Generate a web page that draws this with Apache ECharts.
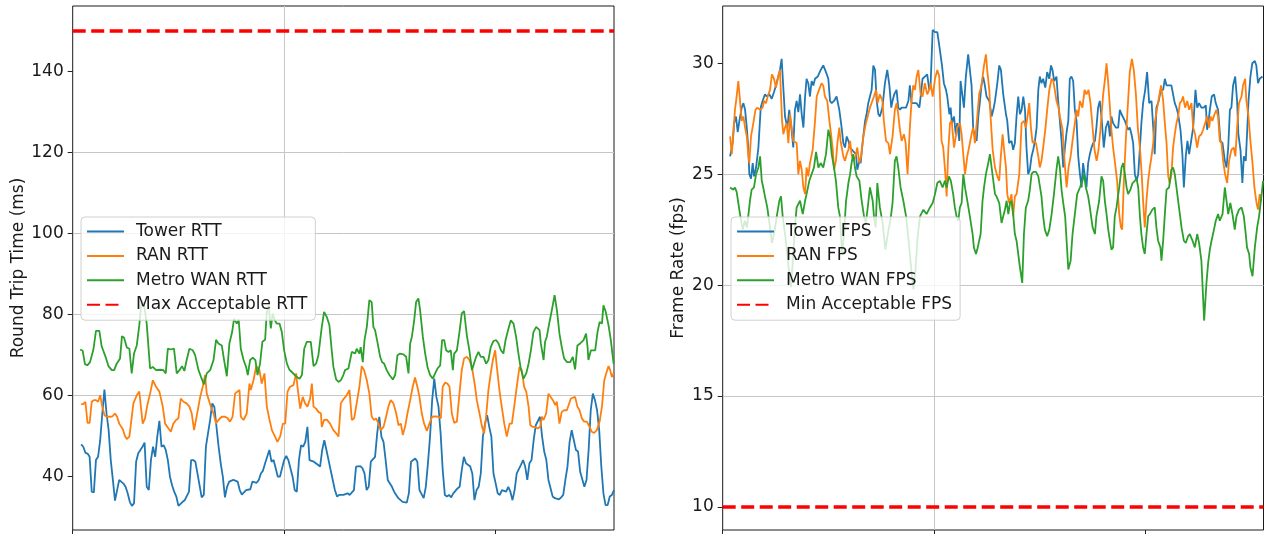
<!DOCTYPE html>
<html><head><meta charset="utf-8">
<script src="https://cdn.jsdelivr.net/npm/echarts@6/dist/echarts.min.js"></script>
<style>html,body{margin:0;padding:0;background:#fff}#c{width:1265px;height:534px}</style>
</head><body><div id="c"></div>
<script>
// ---- data (x = time index, y = value) ----
const timeTicks = [0, 100, 200];
const rttTicks = [40, 60, 80, 100, 120, 140];
const fpsTicks = [10, 15, 20, 25, 30];
const MAX_RTT = 150;
const MIN_FPS = 10;

const towerRtt = [[4,48.0],[5,47.4],[6,45.9],[7,45.7],[8,44.9],[9,36.3],[10,36.1],[11,44.1],[12,44.9],[13,49.0],[14,55.6],[15,61.5],[16,55.6],[17,51.5],[18,44.1],[19,39.2],[20,34.1],[21,36.7],[22,39.2],[24,38.3],[25,37.5],[26,35.9],[27,33.8],[28,32.8],[29,33.4],[30,43.7],[31,45.8],[33,47.4],[34,48.4],[35,37.5],[36,36.7],[37,44.1],[38,47.4],[39,44.9],[40,49.9],[41,53.8],[42,47.4],[43,47.8],[44,46.6],[45,44.1],[46,40.0],[47,37.9],[48,36.3],[49,35.1],[50,32.8],[52,33.8],[53,34.2],[55,36.3],[56,44.1],[57,44.1],[58,43.7],[59,40.8],[61,34.9],[62,35.5],[63,47.4],[65,54.0],[66,58.1],[67,57.2],[68,52.3],[69,47.4],[70,43.3],[71,40.0],[72,34.9],[73,37.5],[74,38.8],[76,39.2],[78,38.8],[79,36.7],[80,35.6],[82,36.7],[84,36.9],[85,38.8],[87,38.5],[88,39.2],[89,40.8],[90,41.5],[91,43.3],[93,46.6],[94,43.7],[95,44.1],[96,42.1],[97,40.0],[98,40.0],[100,44.1],[101,45.1],[102,44.1],[104,40.0],[105,36.7],[106,36.3],[107,44.1],[108,47.8],[109,47.4],[110,48.6],[111,52.3],[112,44.1],[114,43.7],[115,43.3],[117,42.5],[118,46.6],[119,49.0],[120,46.6],[121,44.1],[122,41.6],[124,36.7],[125,35.1],[126,35.5],[128,35.5],[130,35.9],[131,35.5],[133,36.7],[134,42.5],[136,42.6],[137,42.1],[138,40.8],[139,36.7],[140,37.5],[141,43.7],[143,44.9],[144,50.7],[145,54.8],[146,49.9],[147,48.6],[148,44.1],[149,39.2],[151,37.5],[152,36.3],[154,34.7],[156,33.8],[158,33.6],[159,35.9],[160,43.7],[162,44.5],[163,43.7],[164,36.7],[166,34.7],[167,37.5],[168,43.3],[169,49.9],[170,58.9],[171,64.2],[172,59.7],[173,57.3],[174,50.7],[175,41.6],[176,35.5],[177,35.1],[178,35.5],[179,34.9],[180,35.9],[182,37.1],[183,37.5],[184,41.6],[185,44.9],[186,43.3],[188,42.5],[189,40.8],[190,34.2],[191,36.7],[192,37.5],[193,40.8],[194,49.9],[195,53.1],[196,55.2],[197,52.3],[198,49.9],[199,40.8],[200,38.4],[201,35.9],[202,35.5],[203,36.7],[205,36.3],[206,37.5],[207,36.3],[208,34.2],[209,36.7],[210,40.8],[212,42.9],[213,44.1],[214,42.5],[215,39.2],[216,43.3],[217,44.1],[218,49.0],[219,52.7],[221,54.8],[222,49.9],[223,46.2],[224,44.1],[225,39.2],[227,35.1],[228,34.7],[230,34.4],[231,34.9],[232,35.5],[233,39.2],[234,42.5],[235,48.6],[236,51.5],[237,49.0],[238,46.6],[239,46.2],[240,41.2],[242,37.5],[243,39.2],[244,46.6],[245,56.4],[246,60.5],[247,58.9],[248,56.4],[249,51.5],[250,42.5],[251,35.9],[252,33.0],[253,33.0],[254,35.1],[255,35.5],[256,36.7]];

const ranRtt = [[4,57.9],[5,57.9],[6,58.5],[7,53.3],[8,53.3],[9,58.5],[10,58.9],[11,58.9],[12,58.5],[13,60.1],[14,57.3],[15,55.2],[16,54.8],[17.7,54.8],[18.8,54.9],[20,55.6],[21,54.8],[22,53.1],[23.7,51.7],[24.8,49.9],[25.6,49.3],[26.8,49.9],[27.6,49.9],[28.7,58.1],[30.3,60.1],[31.5,61.0],[32.2,61.4],[33.1,53.1],[34.2,54.4],[35.3,57.7],[36.6,60.5],[37.9,63.8],[39.4,62.2],[41.0,61.0],[42.6,57.3],[43.7,53.1],[45.3,51.9],[46.4,51.1],[47.6,53.1],[48.9,54.0],[50.0,54.4],[51.1,59.3],[52.4,58.5],[53.9,58.1],[55.2,57.3],[56.3,55.6],[57.4,51.5],[58.2,51.9],[59.3,56.8],[60.3,59.7],[61.5,62.2],[62.6,65.1],[63.4,60.5],[64.4,58.9],[65.3,57.3],[66.6,55.6],[67.8,53.1],[68.9,54.0],[70.5,54.8],[72.1,54.8],[73.3,54.4],[74.4,53.6],[75.6,54.8],[76.8,60.5],[77.9,61.0],[78.9,61.4],[79.5,54.8],[80.8,54.0],[82.3,55.6],[83.6,63.0],[84.2,61.4],[85.5,63.8],[86.8,67.3],[88.3,66.3],[89.4,63.0],[90.7,65.5],[91.8,57.3],[93.1,54.0],[94.2,51.5],[95.7,49.9],[96.8,48.6],[98.1,49.9],[99.4,53.1],[100.5,53.1],[101.6,61.0],[102.8,62.2],[104.4,62.6],[105.7,65.5],[106.3,62.2],[107.6,56.8],[108.8,59.7],[109.9,58.1],[111.0,57.3],[112.3,59.3],[113.1,63.0],[113.9,57.3],[115.1,56.8],[116.2,56.0],[117.4,55.6],[117.8,52.3],[118.9,54.0],[120.2,54.1],[121.7,53.1],[123.3,51.5],[124.6,50.7],[125.7,49.9],[126.8,58.1],[128.0,59.1],[129.6,60.1],[130.9,61.4],[132.0,54.0],[133.1,54.4],[134.3,58.1],[135.6,62.2],[136.7,67.3],[137.8,66.3],[139.1,63.8],[140.3,60.5],[141.4,54.8],[142.5,54.0],[143.5,54.4],[144.6,53.1],[145.7,51.5],[147.0,52.3],[148.2,54.8],[149.3,57.3],[150.4,58.9],[151.7,58.1],[153.0,55.6],[154.1,52.7],[155.2,53.1],[156.1,50.3],[157.2,52.3],[158.3,55.6],[159.6,58.9],[160.8,62.2],[161.9,64.5],[163.0,62.2],[164.0,59.7],[165.1,55.6],[166.2,53.1],[167.5,51.3],[168.7,53.1],[170.0,54.8],[171.4,54.9],[173.0,54.8],[174.1,54.4],[175.0,62.2],[176.1,63.2],[177.2,63.0],[178.2,62.2],[179.3,55.6],[180.4,53.3],[181.7,53.6],[182.9,60.5],[184.0,66.3],[185.1,69.2],[186.4,69.6],[187.6,68.8],[188.8,67.1],[190.3,62.2],[191.1,58.9],[192.4,55.6],[193.6,52.3],[194.6,50.7],[195.5,54.8],[196.6,61.4],[197.7,65.5],[198.7,68.8],[199.8,71.2],[200.6,67.1],[201.8,61.4],[202.9,57.3],[204.1,53.1],[205.3,49.9],[206.6,53.1],[207.7,53.1],[208.8,57.3],[210.0,62.2],[211.3,67.1],[212.4,66.3],[213.5,62.2],[214.5,61.0],[215.6,57.3],[216.4,52.7],[217.6,52.3],[218.7,52.3],[219.8,51.9],[221.1,52.3],[221.9,54.8],[222.7,54.0],[223.9,55.6],[225.0,60.5],[225.8,60.1],[227.1,58.9],[228.2,57.7],[229.0,58.5],[230.2,53.1],[231.3,56.0],[232.4,56.4],[233.7,56.4],[234.5,56.4],[235.6,59.3],[236.5,58.9],[237.6,59.7],[238.7,57.3],[239.7,56.4],[240.8,54.4],[241.9,53.6],[243.2,53.6],[244.4,52.3],[245.5,51.1],[246.6,50.8],[247.9,51.5],[249.2,53.6],[250.3,57.3],[251.4,63.8],[252.3,65.5],[253.4,67.3],[254.2,66.3],[255.0,64.6],[255.8,65.5]];

const metroRtt = [[3.5,71.4],[4.7,71.1],[5.8,67.8],[6.9,67.5],[8.2,68.3],[9.8,71.4],[11.0,76.0],[12.6,76.0],[13.7,72.2],[15.8,69.2],[16.9,67.3],[18.5,66.3],[19.6,66.3],[20.8,67.9],[22.4,69.2],[23.3,74.7],[24.3,74.3],[25.6,71.9],[26.8,71.6],[27.9,65.5],[29.0,70.4],[30.3,72.4],[31.5,77.4],[32.6,83.6],[33.8,82.3],[35.0,77.8],[36.6,66.7],[37.9,67.1],[39.4,66.3],[41.3,66.4],[42.9,66.3],[44.0,65.5],[45.0,71.6],[46.4,71.4],[47.9,71.6],[49.2,65.5],[50.5,66.3],[51.7,67.3],[52.8,66.1],[53.9,68.8],[55.2,71.6],[56.8,71.2],[57.9,70.0],[59.5,66.3],[60.7,64.6],[62.1,62.8],[63.4,65.5],[65.0,66.3],[66.6,68.8],[67.8,73.8],[68.9,72.9],[70.5,72.4],[71.6,68.8],[72.9,64.8],[74.1,72.9],[75.4,75.7],[76.3,79.0],[77.6,77.8],[78.5,78.8],[79.5,71.6],[80.8,68.8],[82.0,67.1],[82.8,65.1],[83.9,68.8],[85.2,69.4],[86.4,68.8],[87.4,65.1],[88.6,67.9],[89.7,73.3],[91.0,73.8],[91.8,80.7],[92.7,82.3],[93.7,76.6],[94.6,80.3],[95.6,78.6],[96.5,77.8],[97.8,77.8],[98.9,75.7],[100.0,71.2],[101.3,67.9],[102.5,66.4],[104.1,65.6],[106.0,64.6],[107.3,64.2],[108.4,65.1],[109.5,71.6],[110.7,73.3],[112.6,73.3],[113.9,67.3],[115.1,67.9],[116.2,70.0],[117.8,77.0],[118.9,80.7],[120.2,79.4],[121.4,77.4],[122.5,71.2],[123.3,67.1],[124.6,64.0],[125.7,63.4],[126.8,63.8],[128.0,65.1],[128.8,66.3],[130.4,66.7],[131.2,67.1],[132.0,70.8],[132.8,71.2],[133.6,70.4],[134.3,71.6],[135.6,70.4],[136.2,72.0],[137.2,68.3],[138.0,73.7],[139.1,77.0],[140.3,83.6],[141.4,83.1],[142.2,77.0],[143.0,76.2],[144.1,73.3],[145.4,69.6],[146.3,68.3],[147.3,67.9],[148.5,66.3],[149.8,65.1],[151.4,64.0],[152.5,65.1],[153.6,70.0],[154.8,70.4],[156.4,70.2],[157.7,69.6],[158.8,65.5],[159.6,72.9],[160.4,74.5],[161.5,78.6],[162.4,83.1],[163.5,84.0],[164.3,81.1],[165.6,74.5],[166.7,70.4],[167.8,67.1],[169.0,65.1],[170.3,64.2],[171.4,65.5],[172.5,66.7],[173.8,67.5],[174.7,73.7],[175.7,73.7],[176.6,71.2],[177.7,70.8],[178.8,71.2],[179.8,66.3],[180.4,70.4],[181.7,71.2],[182.9,75.7],[184.0,80.3],[185.1,80.9],[186.4,74.9],[187.6,71.2],[188.8,66.3],[189.5,65.9],[190.8,69.6],[191.9,70.8],[193.0,69.6],[194.3,69.6],[195.5,67.9],[196.6,68.8],[197.7,72.0],[199.0,73.5],[200.3,73.7],[201.4,72.9],[202.5,71.2],[203.7,70.4],[204.7,73.7],[206.1,76.6],[207.2,78.6],[208.5,77.8],[209.7,74.5],[210.8,70.4],[211.9,66.7],[213.2,64.2],[214.5,65.5],[215.6,67.9],[216.7,71.2],[217.9,75.7],[219.2,77.0],[220.8,76.2],[221.4,72.9],[222.7,68.8],[223.4,73.3],[224.2,74.5],[225.5,78.2],[226.6,81.1],[227.9,84.8],[229.0,81.1],[230.2,75.3],[231.3,72.0],[232.4,69.2],[233.7,68.3],[235.3,68.3],[236.5,69.6],[237.6,66.5],[238.7,72.4],[240.0,72.9],[241.6,73.7],[242.8,75.3],[243.5,72.0],[243.9,68.8],[245.1,71.2],[246.0,70.8],[247.1,71.2],[248.2,75.7],[249.2,78.2],[250.3,77.8],[251.0,82.3],[252.1,80.7],[253.4,77.4],[254.5,73.7],[255.8,67.9]];

const towerFps = [[3.5,25.8],[4.7,26.4],[5.4,27.3],[6.3,27.6],[7.1,26.9],[7.9,27.4],[9.0,28.0],[9.8,28.2],[10.6,27.9],[11.4,27.1],[12.1,26.2],[12.6,25.0],[13.4,24.8],[14.2,25.5],[14.8,24.9],[15.8,25.3],[16.9,26.2],[18.0,28.0],[18.9,28.3],[20.0,28.6],[20.8,28.5],[22.1,28.6],[23.2,28.4],[24.3,28.7],[25.2,29.0],[26.3,29.4],[27.1,29.7],[27.9,30.2],[28.7,30.2],[29.5,27.6],[30.6,27.1],[31.5,27.9],[32.6,27.0],[33.4,26.2],[34.2,27.9],[35.0,28.3],[35.8,27.8],[36.6,28.6],[37.4,27.7],[38.2,27.1],[39.0,28.5],[39.7,29.3],[40.5,29.1],[41.3,28.5],[42.1,29.2],[42.9,29.0],[43.7,29.3],[45.0,29.4],[46.4,29.7],[47.6,29.9],[48.9,29.6],[50.0,29.3],[50.8,28.3],[51.6,28.2],[52.7,28.3],[53.9,28.5],[55.2,27.9],[56.3,27.1],[57.1,26.4],[57.9,26.2],[58.7,26.7],[59.5,26.5],[60.3,26.2],[61.2,26.2],[62.1,26.0],[63.1,25.9],[63.7,25.2],[64.7,25.6],[65.3,25.5],[66.2,26.4],[67.4,27.4],[68.1,27.7],[68.9,28.2],[69.7,28.5],[70.5,28.8],[71.3,29.9],[72.1,29.7],[72.9,28.3],[73.7,27.7],[74.4,27.6],[75.6,28.0],[76.8,29.1],[77.9,29.7],[78.9,29.0],[79.8,28.0],[80.4,28.3],[81.2,28.6],[82.3,28.8],[83.1,28.0],[83.9,27.9],[84.7,28.0],[85.8,28.0],[86.8,28.0],[87.9,28.3],[88.6,29.0],[89.4,28.2],[90.5,28.2],[91.8,28.2],[93.1,28.0],[93.7,28.5],[94.6,29.3],[95.7,29.4],[96.8,29.5],[97.8,28.8],[98.4,29.0],[99.4,31.5],[100.5,31.4],[101.6,31.4],[102.8,30.6],[103.8,29.9],[104.7,29.1],[105.7,28.8],[106.3,28.5],[107.3,27.7],[107.9,28.0],[108.5,27.3],[109.5,27.6],[110.3,26.8],[111.0,27.3],[112.0,26.5],[112.6,29.2],[114.2,28.0],[115.1,29.4],[116.2,30.4],[117.8,29.0],[118.6,27.0],[119.4,27.0],[120.2,26.5],[121.0,27.6],[121.8,28.3],[122.5,29.0],[123.3,29.4],[124.1,29.0],[124.9,28.5],[126.2,28.3],[127.3,27.6],[128.1,27.9],[128.9,28.3],[130.0,29.1],[130.9,29.9],[131.7,29.7],[132.8,28.6],[134.1,27.7],[134.7,27.4],[135.6,26.4],[136.7,26.5],[137.5,26.1],[138.3,26.4],[139.1,27.6],[139.9,28.5],[140.7,27.7],[141.5,27.9],[142.3,28.5],[143.1,27.9],[143.8,26.2],[144.6,25.0],[145.4,25.2],[146.2,25.8],[147.0,26.1],[147.8,26.5],[148.6,27.1],[149.4,28.8],[150.1,29.4],[150.9,29.1],[151.7,29.3],[152.7,28.9],[153.6,29.6],[154.6,29.3],[155.4,29.9],[156.1,29.7],[156.9,29.2],[158.0,29.4],[158.8,28.3],[159.6,27.4],[160.4,26.5],[161.2,25.3],[162.0,26.2],[162.8,26.9],[163.6,27.4],[164.3,29.3],[165.1,29.4],[165.9,29.2],[166.7,27.9],[167.5,27.4],[168.3,25.8],[169.1,25.0],[169.9,24.4],[170.6,25.5],[171.4,25.5],[172.2,24.4],[173.0,25.5],[173.8,25.9],[174.6,26.2],[175.4,26.4],[176.2,26.5],[176.9,27.1],[177.7,28.0],[178.5,28.3],[179.3,27.6],[180.4,26.2],[181.4,27.1],[182.5,27.4],[183.3,26.7],[184.0,27.6],[184.8,27.3],[186.1,27.1],[187.2,27.1],[188.0,27.9],[188.8,27.7],[189.6,27.7],[190.4,27.4],[191.2,27.4],[191.9,27.0],[192.7,27.1],[193.5,26.8],[194.3,26.4],[195.1,25.0],[195.9,24.7],[196.7,25.0],[197.5,26.2],[198.2,27.3],[199.0,28.2],[200.0,28.8],[200.9,29.6],[201.9,28.2],[203.0,28.3],[203.8,27.1],[204.5,25.9],[205.3,28.0],[206.4,28.3],[207.4,28.8],[208.5,28.8],[209.3,29.3],[210.1,29.0],[211.3,29.0],[212.4,29.0],[213.2,28.6],[214.0,28.2],[214.8,28.0],[215.6,27.7],[216.7,27.0],[217.6,25.9],[218.3,24.4],[219.2,25.8],[220.0,26.5],[220.8,25.9],[221.6,26.4],[222.7,27.1],[223.8,28.8],[224.6,28.0],[225.5,28.2],[226.6,28.0],[227.7,28.0],[228.7,28.1],[229.3,27.0],[229.9,27.3],[230.6,27.9],[231.5,28.5],[232.6,28.6],[233.4,28.2],[234.5,27.9],[235.6,26.5],[236.6,26.4],[237.7,25.6],[238.5,25.3],[239.3,26.2],[240.1,27.9],[240.8,28.0],[241.6,29.0],[242.6,29.4],[243.5,28.3],[244.1,26.8],[245.1,26.1],[246.0,24.6],[246.7,25.8],[247.6,25.6],[248.2,26.8],[248.9,28.3],[249.8,29.4],[250.7,30.0],[251.9,30.1],[252.6,29.9],[253.4,29.1],[254.2,29.3],[255.5,29.4]];

const ranFps = [[3.5,26.7],[4.3,25.9],[5.0,26.8],[5.8,27.9],[6.6,28.5],[7.4,29.2],[8.2,28.3],[9.0,27.4],[9.8,27.6],[10.6,27.1],[11.4,26.7],[12.1,25.9],[12.6,25.5],[13.4,26.7],[14.5,27.3],[15.5,27.9],[16.4,28.0],[17.7,27.9],[18.9,28.0],[19.6,28.3],[20.5,28.2],[21.3,28.5],[22.4,28.8],[23.3,29.5],[24.3,29.3],[25.2,28.9],[26.3,29.4],[27.1,29.7],[28.1,27.4],[28.7,26.8],[29.5,27.1],[30.3,27.3],[31.1,26.4],[31.9,27.7],[32.8,27.7],[33.4,26.5],[34.2,26.5],[35.0,26.4],[35.8,25.0],[36.6,25.6],[37.4,25.2],[38.2,24.4],[39.0,24.1],[39.7,25.3],[40.5,24.9],[41.3,25.5],[42.6,26.1],[43.7,27.4],[44.5,28.5],[45.6,28.8],[46.8,29.1],[47.6,29.0],[48.4,28.5],[49.5,28.3],[50.5,27.4],[51.3,26.8],[52.1,26.1],[52.7,25.2],[53.6,25.6],[54.3,26.4],[55.2,27.1],[55.8,26.5],[57.1,25.8],[57.9,25.6],[58.7,25.9],[59.5,26.1],[60.3,26.5],[61.0,25.9],[61.8,25.6],[62.9,25.8],[63.7,26.2],[64.7,25.5],[65.5,25.8],[66.6,26.7],[67.8,27.3],[68.9,27.7],[69.7,28.0],[70.5,28.0],[71.6,28.5],[72.6,28.8],[73.3,28.2],[74.4,28.6],[75.6,28.3],[76.3,27.4],[77.3,26.5],[78.4,26.4],[79.2,25.9],[80.4,26.7],[81.5,27.9],[82.3,28.2],[83.1,27.7],[83.9,27.0],[84.7,26.5],[85.8,26.8],[86.6,26.4],[87.5,25.0],[88.6,27.1],[89.4,28.3],[90.2,29.0],[91.0,28.8],[91.8,29.4],[92.6,29.7],[93.7,28.6],[94.6,28.5],[95.7,29.1],[96.8,28.6],[97.8,28.8],[98.4,29.1],[99.4,28.5],[100.5,29.3],[101.6,29.7],[102.5,29.4],[103.6,26.5],[104.4,26.2],[105.4,25.0],[106.0,24.0],[106.8,26.1],[107.6,27.3],[108.4,27.4],[109.5,26.2],[110.4,26.2],[111.0,27.1],[112.3,27.3],[113.1,26.8],[113.6,26.2],[114.7,25.0],[115.8,25.8],[116.7,25.8],[117.8,26.8],[118.6,27.1],[119.4,26.4],[120.5,27.6],[121.4,28.6],[122.5,29.0],[123.7,29.9],[124.6,30.4],[125.2,29.7],[126.2,28.8],[126.8,27.6],[127.8,26.1],[128.9,25.3],[130.0,24.9],[130.9,24.7],[131.5,25.6],[132.5,26.8],[133.1,26.2],[134.1,25.3],[134.7,24.1],[135.6,23.7],[136.7,24.1],[137.5,23.1],[138.3,24.0],[139.1,24.1],[140.4,25.0],[141.5,27.3],[142.6,27.4],[143.5,27.1],[144.3,27.6],[145.1,28.2],[145.9,27.1],[146.7,26.4],[147.3,26.5],[148.3,26.4],[149.4,25.8],[150.1,25.3],[150.9,25.6],[151.7,26.2],[152.7,27.0],[153.6,27.9],[154.6,28.8],[155.7,29.3],[156.5,29.2],[157.2,28.8],[158.0,28.3],[159.0,28.0],[159.6,27.6],[160.9,27.0],[161.8,25.6],[162.8,24.4],[163.7,25.3],[164.7,25.8],[165.6,26.5],[166.7,27.3],[167.5,27.9],[168.3,27.6],[169.1,28.3],[170.3,28.0],[171.3,28.8],[172.2,28.6],[173.2,28.8],[174.1,28.2],[175.1,27.1],[176.0,26.1],[177.0,25.6],[177.9,26.1],[178.8,27.0],[180.1,28.6],[181.1,29.4],[181.7,30.0],[182.5,29.1],[183.3,28.0],[184.0,27.0],[184.8,26.2],[185.6,25.6],[186.7,24.7],[187.7,23.2],[188.5,22.6],[189.1,22.5],[189.9,24.7],[190.8,26.5],[191.9,28.3],[192.7,29.6],[193.7,30.2],[194.6,29.7],[195.6,28.6],[196.5,27.1],[197.5,26.2],[198.4,24.9],[199.0,23.8],[199.8,22.6],[200.6,23.8],[201.4,24.7],[202.2,25.3],[203.0,25.8],[203.8,26.4],[204.5,27.3],[205.7,28.0],[206.6,28.5],[207.5,29.0],[208.5,28.3],[209.3,27.3],[210.1,26.4],[210.9,24.9],[211.6,24.6],[212.4,25.0],[213.2,26.2],[214.0,26.8],[214.8,27.3],[215.6,27.6],[216.4,28.2],[217.2,28.3],[217.9,28.5],[218.9,28.0],[219.9,28.3],[220.8,27.9],[221.9,28.2],[222.7,27.1],[223.6,26.8],[224.6,26.2],[225.5,26.7],[226.6,26.8],[227.4,27.0],[228.4,27.3],[229.3,27.6],[230.3,27.1],[230.9,27.6],[231.8,27.4],[232.8,27.7],[233.7,27.9],[234.5,27.6],[235.3,26.5],[236.1,26.4],[236.9,25.6],[237.8,25.0],[238.8,24.6],[239.7,25.6],[240.8,26.1],[241.9,26.2],[242.7,25.8],[243.5,27.1],[244.4,28.2],[245.6,28.5],[246.3,29.0],[247.3,29.3],[247.9,28.3],[248.9,27.6],[249.8,26.5],[250.8,25.5],[251.7,24.4],[252.7,23.7],[253.4,23.4],[254.2,24.1],[255.0,23.8]];

const metroFps = [[3.5,24.4],[5.0,24.3],[5.8,24.4],[6.6,24.2],[7.4,23.7],[8.2,23.2],[9.5,22.5],[10.5,22.9],[11.5,22.6],[12.9,23.8],[13.7,24.3],[14.8,24.4],[15.8,25.0],[16.9,25.3],[17.7,25.8],[18.5,24.7],[19.2,24.4],[20.0,24.0],[21.1,23.5],[22.1,22.8],[23.3,21.9],[24.5,22.4],[25.6,23.1],[26.8,23.8],[27.6,24.0],[28.4,23.1],[29.5,22.3],[30.5,21.5],[31.5,20.5],[32.3,19.9],[33.3,21.2],[34.2,22.6],[35.0,23.5],[36.6,23.8],[37.9,23.2],[39.0,23.8],[39.7,24.1],[41.0,24.7],[42.1,25.0],[43.2,25.3],[44.2,26.0],[45.3,25.3],[46.4,25.5],[47.6,25.3],[48.9,25.9],[50.0,27.0],[50.8,26.7],[51.6,25.9],[52.7,25.3],[53.6,24.7],[54.7,23.5],[55.5,23.1],[56.5,21.4],[57.4,22.3],[58.4,23.8],[59.5,24.6],[60.3,25.0],[61.0,25.5],[61.8,25.9],[62.6,25.3],[63.4,24.9],[64.7,24.7],[65.8,23.8],[66.9,23.1],[67.8,22.8],[68.9,23.7],[69.7,24.4],[71.0,23.8],[71.6,23.1],[72.4,22.6],[73.2,24.6],[74.4,23.5],[75.7,22.8],[77.0,21.6],[78.5,22.5],[79.5,23.0],[80.4,23.7],[81.5,25.6],[82.3,25.8],[83.1,25.3],[84.2,24.4],[85.5,23.8],[86.8,23.1],[88.0,22.0],[89.2,20.8],[90.3,19.8],[91.2,20.6],[92.3,22.2],[93.4,23.1],[95.0,23.4],[96.5,23.2],[98.1,23.5],[99.4,23.7],[100.5,24.1],[101.6,24.6],[102.8,24.7],[104.1,24.4],[105.2,24.7],[106.0,24.4],[107.1,24.9],[108.0,24.7],[109.1,24.1],[109.9,23.5],[110.7,23.1],[111.5,22.9],[112.3,23.5],[113.1,23.7],[113.9,25.0],[114.7,24.4],[115.8,23.8],[117.0,23.1],[118.3,22.3],[118.9,21.7],[119.9,21.4],[120.5,21.6],[121.4,21.6],[122.1,22.3],[123.0,23.8],[123.7,24.4],[124.6,25.0],[125.7,25.5],[126.5,25.9],[127.3,25.3],[128.1,24.7],[128.9,24.1],[129.6,24.0],[130.9,23.7],[132.0,22.8],[132.8,23.1],[133.6,23.4],[134.4,23.8],[135.2,23.2],[136.0,23.7],[136.7,23.8],[137.5,23.2],[138.3,22.3],[139.1,22.0],[139.9,21.4],[140.7,20.8],[141.8,20.1],[142.6,22.3],[143.5,23.5],[144.6,23.8],[145.4,24.3],[146.2,25.0],[147.0,25.1],[148.3,25.1],[149.4,24.9],[150.1,24.9],[150.9,24.0],[151.7,23.1],[152.5,22.5],[153.6,22.2],[154.6,22.5],[155.7,23.2],[156.8,24.1],[158.0,25.2],[158.8,25.8],[159.6,25.3],[160.4,24.3],[161.2,23.7],[162.1,23.1],[162.8,22.0],[163.6,20.7],[164.7,21.1],[165.6,22.3],[166.7,23.2],[167.8,24.1],[169.1,24.4],[170.3,24.7],[171.0,25.0],[171.9,24.4],[173.0,24.0],[173.8,23.5],[175.1,22.6],[176.2,22.3],[176.9,23.1],[178.2,23.8],[179.3,24.9],[180.1,24.7],[180.9,23.8],[181.7,23.2],[182.5,22.5],[183.3,22.0],[184.0,21.6],[184.8,21.7],[185.6,23.1],[186.4,23.5],[187.7,24.4],[188.8,25.3],[189.6,25.5],[190.4,25.0],[191.2,24.4],[191.9,24.1],[193.0,24.3],[194.0,24.6],[195.1,24.7],[195.9,24.8],[196.7,24.4],[197.5,23.1],[198.2,22.3],[199.0,21.7],[199.8,21.4],[200.6,22.3],[201.4,23.1],[202.2,23.2],[203.4,23.4],[204.5,23.5],[205.3,22.6],[206.1,22.0],[207.2,21.7],[207.7,21.1],[208.5,22.0],[209.3,23.2],[210.1,24.3],[211.3,24.4],[212.4,25.2],[213.2,25.3],[214.0,25.0],[214.8,24.4],[215.6,23.8],[216.4,23.2],[217.2,22.6],[218.3,22.0],[219.2,21.9],[220.3,22.2],[221.1,22.3],[222.4,22.0],[223.5,21.7],[224.6,22.3],[225.5,21.9],[226.6,21.1],[227.9,18.4],[229.0,20.1],[229.8,21.0],[230.6,21.6],[231.4,22.0],[232.1,22.3],[233.4,22.9],[234.5,23.2],[235.3,22.9],[236.6,23.2],[237.7,24.4],[238.5,23.8],[239.3,23.2],[240.3,23.7],[241.3,23.2],[242.4,22.5],[243.2,23.1],[244.4,23.4],[245.6,23.5],[246.7,23.1],[247.6,22.3],[248.2,21.7],[249.2,21.4],[249.8,20.8],[250.8,20.4],[251.9,21.7],[253.0,22.6],[253.9,23.1],[255.0,24.0],[255.8,24.7]];

// ---- styling ----
const FONT = 'DejaVu Sans';
const FS = 17;
const TXT = '#1a1a1a';
const C = { tower: '#1f77b4', ran: '#ff7f0e', metro: '#2ca02c', lim: '#ff0000' };
const X_MAX = 256;

function xAxis(gi) {
  return {
    gridIndex: gi, type: 'value', min: 0, max: X_MAX, interval: 100,
    axisLine: { show: false },
    axisTick: { show: true, inside: false, length: 5, customValues: timeTicks, lineStyle: { color: '#222', width: 1 } },
    axisLabel: { show: false },
    splitLine: { show: true, showMinLine: false, showMaxLine: false, lineStyle: { color: '#c6c6c6', width: 1 } }
  };
}
function yAxis(gi, min, max, split, ticks, name, gap) {
  return {
    gridIndex: gi, type: 'value', min: min, max: max, splitNumber: split,
    name: name, nameLocation: 'middle', nameGap: gap,
    nameTextStyle: { fontFamily: FONT, fontSize: FS, color: TXT },
    axisLine: { show: false },
    axisTick: { show: true, inside: false, length: 5, customValues: ticks, lineStyle: { color: '#222', width: 1 } },
    axisLabel: {
      customValues: ticks, margin: 9,
      fontFamily: FONT, fontSize: FS, color: TXT,
      formatter: v => (ticks.indexOf(v) >= 0 ? String(v) : '')
    },
    splitLine: { show: true, showMinLine: false, showMaxLine: false, lineStyle: { color: '#c6c6c6', width: 1 } }
  };
}
function dataLine(name, data, color, gi) {
  return {
    name: name, type: 'line', xAxisIndex: gi, yAxisIndex: gi, data: data,
    symbol: 'none', clip: true, lineStyle: { color: color, width: 1.8 }, itemStyle: { color: color },
    emphasis: { disabled: true }
  };
}
function limitLine(name, val, gi) {
  return {
    name: name, type: 'line', xAxisIndex: gi, yAxisIndex: gi,
    data: [[0, val], [X_MAX, val]], symbol: 'none', clip: true,
    lineStyle: { color: C.lim, width: 3.5, type: [13, 5.5] }, itemStyle: { color: C.lim },
    emphasis: { disabled: true }
  };
}
function legend(left, names) {
  return {
    left: left, top: 217, orient: 'vertical', data: names,
    itemWidth: 37, itemHeight: 14, itemGap: 7.4, padding: [6, 8, 7, 5],
    backgroundColor: 'rgba(255,255,255,0.8)', borderColor: '#d0d0d0', borderWidth: 1, borderRadius: 4,
    itemStyle: { color: 'rgba(0,0,0,0)', borderColor: 'rgba(0,0,0,0)', borderWidth: 0, opacity: 0 },
    textStyle: { fontFamily: FONT, fontSize: FS, color: TXT, padding: [0, 0, 0, 7] },
    selectedMode: false
  };
}

const chart = echarts.init(document.getElementById('c'), null, { renderer: 'canvas' });
chart.setOption({
  animation: false,
  backgroundColor: '#fff',
  grid: [
    { left: 72.7, right: 651, top: 6, bottom: 4, show: true, borderColor: '#1a1a1a', borderWidth: 1, backgroundColor: 'transparent', outerBoundsMode: 'none', containLabel: false },
    { left: 722.7, right: 1.5, top: 6, bottom: 4, show: true, borderColor: '#1a1a1a', borderWidth: 1, backgroundColor: 'transparent', outerBoundsMode: 'none', containLabel: false }
  ],
  xAxis: [xAxis(0), xAxis(1)],
  yAxis: [
    yAxis(0, 26.84, 156.2, 6, rttTicks, 'Round Trip Time (ms)', 46),
    yAxis(1, 8.96, 32.58, 5, fpsTicks, 'Frame Rate (fps)', 36)
  ],
  legend: [
    legend(81, ['Tower RTT', 'RAN RTT', 'Metro WAN RTT', 'Max Acceptable RTT']),
    legend(731, ['Tower FPS', 'RAN FPS', 'Metro WAN FPS', 'Min Acceptable FPS'])
  ],
  series: [
    dataLine('Tower RTT', towerRtt, C.tower, 0),
    dataLine('RAN RTT', ranRtt, C.ran, 0),
    dataLine('Metro WAN RTT', metroRtt, C.metro, 0),
    limitLine('Max Acceptable RTT', MAX_RTT, 0),
    dataLine('Tower FPS', towerFps, C.tower, 1),
    dataLine('RAN FPS', ranFps, C.ran, 1),
    dataLine('Metro WAN FPS', metroFps, C.metro, 1),
    limitLine('Min Acceptable FPS', MIN_FPS, 1)
  ]
});
</script>
</body></html>
